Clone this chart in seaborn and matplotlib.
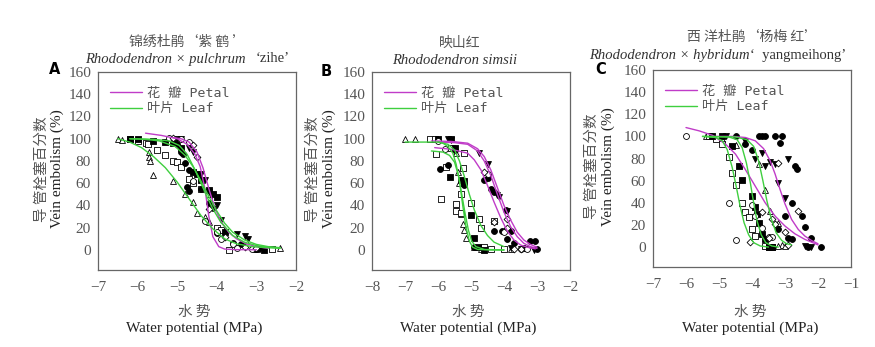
import matplotlib
matplotlib.use("Agg")
import matplotlib.pyplot as plt
from matplotlib.lines import Line2D
import pandas as pd
import seaborn as sns

# ---------------- data ----------------
xticks_A = [-7, -6, -5, -4, -3, -2]
xticks_B = [-8, -7, -6, -5, -4, -3, -2]
xticks_C = [-7, -6, -5, -4, -3, -2, -1]
yticks = [0, 20, 40, 60, 80, 100, 120, 140, 160]

# Panel A curves
A_petal1_x = [-5.8, -5.4, -5.0, -4.75, -4.55, -4.42, -4.3, -4.2, -4.1, -3.95, -3.8, -3.5, -3.0]
A_petal1_y = [105, 103, 100, 95, 86, 75, 55, 30, 12, 3, 0.8, 0.3, 0.2]
A_petal2_x = [-5.1, -4.9, -4.7, -4.5, -4.35, -4.2, -4.05, -3.9, -3.7, -3.5, -3.25, -3.0, -2.7]
A_petal2_y = [101, 100, 97, 88, 74, 55, 38, 26, 16, 10, 5.5, 3, 1.5]
A_leaf1_x = [-6.5, -6.2, -5.9, -5.6, -5.3, -5.0, -4.7, -4.4, -4.1, -3.8, -3.5, -3.1, -2.7, -2.4]
A_leaf1_y = [100, 97, 92, 84, 74, 61, 46, 31, 19, 10, 5.5, 3, 2, 1.5]
A_leaf2_x = [-6.2, -5.8, -5.45, -5.05, -4.8, -4.6, -4.4, -4.2, -4.0, -3.8, -3.6, -3.3, -3.0, -2.7, -2.4]
A_leaf2_y = [100, 99.5, 98, 93, 85, 75, 62, 48, 35, 24, 16, 9, 5, 3, 2]
A_leaf3_x = [-6.2, -5.6, -5.2, -4.95, -4.75, -4.55, -4.4, -4.25, -4.1, -3.9, -3.6, -3.3, -3.0, -2.7, -2.4]
A_leaf3_y = [100, 99.5, 98, 94, 86, 72, 60, 48, 37, 25, 13, 7, 4, 2.5, 2]

# Panel A points
A_tri_open_x = [-6.5, -6.4, -5.7, -5.7, -5.68, -5.6, -5.1, -4.8, -4.6, -4.5, -4.3, -4.2, -2.4, -3.0]
A_tri_open_y = [100, 99, 88, 84, 80, 67, 62, 50, 43, 33, 30, 25, 2, 2]
A_sq_open_x = [-6.2, -6.0, -5.8, -5.75, -5.5, -5.3, -5.1, -5.0, -4.9, -4.7, -4.6, -4.4, -4.2, -4.0, -3.9, -3.7, -2.6]
A_sq_open_y = [100, 98, 96, 95, 90, 85, 80, 79, 75, 64, 60, 55, 45, 20, 18, 0, 1]
A_sq_fill_x = [-6.2, -6.0, -5.6, -5.3, -5.1, -4.9, -4.6, -4.5, -4.4, -4.2, -4.1, -4.0, -3.8, -3.0, -2.8]
A_sq_fill_y = [100, 100, 98, 97, 96, 92, 70, 68, 63, 54, 50, 48, 16, 1, 0]
A_dot_fill_x = [-5.0, -4.9, -4.85, -4.8, -4.7, -4.75, -4.7, -4.4, -4.2, -4.1, -4.0, -3.6, -3.4, -3.0]
A_dot_fill_y = [95, 88, 86, 78, 72, 57, 53, 55, 42, 38, 15, 6, 5, 1]
A_vtri_fill_x = [-5.0, -4.9, -4.7, -4.6, -4.4, -4.3, -4.2, -4.0, -3.9, -3.5, -3.3, -3.2, -2.9]
A_vtri_fill_y = [100, 100, 92, 88, 68, 63, 52, 40, 27, 14, 13, 10, 1]
A_circ_open_x = [-5.2, -4.9, -4.7, -4.6, -4.3, -4.0, -3.9, -3.6, -3.5, -3.1]
A_circ_open_y = [101, 100, 97, 62, 26, 16, 10, 5, 2, 1]
A_dia_open_x = [-5.1, -4.6, -4.5, -4.2, -3.8, -3.3, -3.0]
A_dia_open_y = [101, 94, 84, 37, 12, 3, 2]

# Panel B curves
B_petal1_x = [-6.2, -5.6, -5.1, -4.8, -4.6, -4.4, -4.2, -4.0, -3.8, -3.6, -3.4, -3.2, -3.0]
B_petal1_y = [98, 97.6, 96, 91, 84, 72, 56, 40, 27, 16, 9, 5, 2.5]
B_petal2_x = [-6.0, -5.5, -5.1, -4.8, -4.6, -4.4, -4.2, -4.0, -3.8, -3.6, -3.4, -3.2, -3.0]
B_petal2_y = [97, 96.5, 95, 89, 80, 67, 50, 34, 21, 12, 6, 3, 1.5]
B_petal3_x = [-6.1, -5.6, -5.1, -4.9, -4.7, -4.5, -4.3, -4.1, -3.9, -3.7, -3.5, -3.3, -3.05]
B_petal3_y = [92, 90.5, 87, 81, 72, 58, 43, 29, 17, 9, 4.5, 2.5, 1]
B_leaf1_x = [-7.0, -6.0, -5.85, -5.7, -5.55, -5.45, -5.35, -5.25, -5.15, -5.05, -4.95, -4.8, -4.4, -4.0]
B_leaf1_y = [97, 97, 96, 93, 87, 77, 62, 40, 20, 8, 2.5, 0.5, 0, 0]
B_leaf2_x = [-6.2, -5.85, -5.65, -5.5, -5.38, -5.28, -5.18, -5.08, -4.98, -4.85, -4.6, -4.0]
B_leaf2_y = [89, 88, 85, 79, 67, 50, 33, 18, 8, 3, 0.5, 0]
B_leaf3_x = [-6.0, -5.7, -5.5, -5.35, -5.2, -5.05, -4.9, -4.7, -4.5, -4.3, -4.0]
B_leaf3_y = [97, 95, 90, 80, 66, 50, 36, 22, 13, 7, 3]

# Panel B points
B_tri_open_x = [-7.0, -6.7, -5.5, -5.45, -5.4, -5.35, -5.3, -5.25, -5.2, -5.15, -4.9, -4.7, -3.8]
B_tri_open_y = [100, 100, 92, 87, 70, 60, 32, 23, 18, 11, 3, 1, 1]
B_sq_open_x = [-6.25, -6.1, -6.05, -5.9, -5.75, -5.6, -5.45, -5.45, -5.3, -5.25, -5.2, -5.3, -5.0, -4.7, -4.75, -4.6, -4.4, -4.0, -4.3]
B_sq_open_y = [100, 100, 86, 46, 75, 92, 35, 41, 50, 74, 87, 33, 42, 20, 28, 3, 1, 1, 26]
B_sq_fill_x = [-6.0, -5.6, -5.5, -5.65, -5.3, -5.2, -5.0, -4.9, -4.8, -4.6]
B_sq_fill_y = [100, 100, 92, 66, 63, 62, 31, 11, 3, 0]
B_dot_fill_x = [-5.95, -5.7, -5.5, -5.2, -4.9, -4.6, -4.5, -4.4, -4.3, -4.3, -4.05, -3.95, -3.9, -3.8, -3.7, -3.2, -3.05, -3.0, -3.4]
B_dot_fill_y = [73, 76, 90, 58, 3, 63, 65, 55, 52, 17, 17, 36, 10, 17, 6, 8, 8, 1, 2]
B_vtri_fill_x = [-5.7, -5.6, -4.75, -4.5, -4.2, -4.15, -3.9, -3.8, -3.5, -3.1]
B_vtri_fill_y = [100, 99, 87, 77, 49, 48, 35, 2, 1, 0]
B_circ_open_x = [-6.0, -5.8, -4.5, -4.0, -3.5, -3.3]
B_circ_open_y = [98, 91, 68, 16, 1, 1]
B_dia_open_x = [-4.6, -4.3, -3.9, -3.9, -3.7, -3.5]
B_dia_open_y = [70, 25, 28, 20, 1, 1]

# Panel C curves
C_petal1_x = [-6.0, -5.6, -5.2, -4.8, -4.5, -4.2, -3.9, -3.6, -3.3, -3.0, -2.7, -2.4, -2.0]
C_petal1_y = [108, 105, 101, 93, 84, 70, 55, 40, 28, 19, 12, 7, 2]
C_petal2_x = [-5.2, -4.6, -4.2, -3.9, -3.65, -3.45, -3.3, -3.15, -3.0, -2.8, -2.6, -2.4, -2.2, -2.0]
C_petal2_y = [100, 100, 99, 96, 89, 78, 66, 52, 39, 25, 16, 10, 6, 3]
C_leaf1_x = [-5.5, -5.1, -4.9, -4.75, -4.6, -4.48, -4.36, -4.24, -4.1, -3.95, -3.75, -3.5]
C_leaf1_y = [100, 99, 96, 88, 72, 55, 37, 22, 11, 4, 1, 0]
C_leaf2_x = [-5.4, -4.7, -4.45, -4.3, -4.17, -4.05, -3.95, -3.85, -3.72, -3.58, -3.4, -3.2]
C_leaf2_y = [100, 99.5, 97, 90, 76, 58, 40, 24, 11, 4, 1, 0]
C_leaf3_x = [-5.5, -4.5, -4.15, -3.95, -3.8, -3.67, -3.55, -3.42, -3.27, -3.1, -2.95, -2.8]
C_leaf3_y = [100, 99.5, 97, 91, 78, 60, 42, 26, 13, 6, 3, 2]

# Panel C points
C_circ_open_x = [-6.0, -4.7, -4.5, -4.0, -3.9, -3.7, -3.5, -3.4]
C_circ_open_y = [100, 40, 6, 38, 28, 17, 9, 9]
C_sq_open_x = [-5.3, -5.1, -4.9, -4.7, -4.6, -4.5, -4.3, -4.2, -4.1, -4.0, -3.9, -3.6, -3.5, -3.4]
C_sq_open_y = [100, 98, 93, 81, 67, 56, 40, 32, 27, 16, 10, 1, 0, 0]
C_sq_fill_x = [-5.2, -4.9, -4.6, -4.4, -4.3, -4.0, -3.9, -3.85, -3.8, -3.7, -3.6, -3.5, -3.4]
C_sq_fill_y = [100, 100, 91, 73, 61, 46, 36, 30, 22, 12, 7, 0, 0]
C_tri_open_x = [-5.4, -4.9, -4.5, -3.8, -3.6, -3.45, -3.2, -3.1, -3.0, -3.2]
C_tri_open_y = [100, 98, 92, 75, 52, 33, 22, 2, 1, 1]
C_vtri_fill_x = [-4.8, -4.2, -3.9, -3.7, -3.6, -3.45, -3.3, -3.2, -3.0, -2.9, -2.2, -2.4]
C_vtri_fill_y = [100, 96, 80, 85, 73, 77, 75, 58, 44, 80, 0, 1]
C_dot_fill_x = [-4.5, -4.2, -4.0, -3.8, -3.7, -3.6, -3.3, -3.1, -3.15, -3.0, -2.8, -2.7, -2.65, -2.5, -2.4, -2.2, -2.3, -1.9, -2.9, -2.8, -3.2]
C_dot_fill_y = [100, 93, 88, 100, 100, 100, 100, 100, 94, 28, 40, 73, 71, 28, 18, 8, 0, 0, 8, 7, 16]
C_dia_open_x = [-3.2, -3.5, -3.4, -3.3, -2.6, -3.7, -4.05, -3.0, -2.9]
C_dia_open_y = [76, 8, 25, 21, 33, 32, 5, 14, 2]

# ---------------- styling ----------------
sns.set_theme(style="white")
plt.rcParams["font.family"] = ["Liberation Serif", "Noto Sans CJK SC"]
plt.rcParams["axes.unicode_minus"] = True

PETAL = "#c03cc8"
LEAF = "#3fcf3f"
CJK = ["Noto Sans CJK SC", "DejaVu Sans"]

W, H = 875, 347
fig = plt.figure(figsize=(W / 100, H / 100), dpi=100)


def fx(px):
    return px / W


def fy(py):
    return 1 - py / H


def pts(x, y, marker, filled, ax):
    df = pd.DataFrame({"x": x, "y": y})
    sns.scatterplot(data=df, x="x", y="y", ax=ax, marker=marker, s=18 if marker != "D" else 12,
                    facecolor="black" if filled else "white", edgecolor="black",
                    linewidth=0.6, zorder=3)


def curve(x, y, color, ax):
    df = pd.DataFrame({"x": x, "y": y})
    sns.lineplot(data=df, x="x", y="y", ax=ax, color=color, lw=1.0, sort=False,
                 estimator=None, zorder=4)


panels = [
    dict(box=(98, 72, 296, 270), xlim=(-7, -2), xt=xticks_A,
         petals=[(A_petal1_x, A_petal1_y), (A_petal2_x, A_petal2_y)],
         leaves=[(A_leaf1_x, A_leaf1_y), (A_leaf2_x, A_leaf2_y), (A_leaf3_x, A_leaf3_y)],
         points=[(A_tri_open_x, A_tri_open_y, "^", False), (A_sq_open_x, A_sq_open_y, "s", False),
                 (A_sq_fill_x, A_sq_fill_y, "s", True), (A_dot_fill_x, A_dot_fill_y, "o", True),
                 (A_vtri_fill_x, A_vtri_fill_y, "v", True), (A_circ_open_x, A_circ_open_y, "o", False),
                 (A_dia_open_x, A_dia_open_y, "D", False)],
         letter="A", letter_pos=(55, 69),
         ylab=(42, 57), xlab_c=194),
    dict(box=(372, 72, 570, 270), xlim=(-8, -2), xt=xticks_B,
         petals=[(B_petal1_x, B_petal1_y), (B_petal2_x, B_petal2_y), (B_petal3_x, B_petal3_y)],
         leaves=[(B_leaf1_x, B_leaf1_y), (B_leaf2_x, B_leaf2_y), (B_leaf3_x, B_leaf3_y)],
         points=[(B_tri_open_x, B_tri_open_y, "^", False), (B_sq_open_x, B_sq_open_y, "s", False),
                 (B_sq_fill_x, B_sq_fill_y, "s", True), (B_dot_fill_x, B_dot_fill_y, "o", True),
                 (B_vtri_fill_x, B_vtri_fill_y, "v", True), (B_circ_open_x, B_circ_open_y, "o", False),
                 (B_dia_open_x, B_dia_open_y, "D", False)],
         letter="B", letter_pos=(326, 72),
         ylab=(313, 329), xlab_c=468),
    dict(box=(653, 70, 851, 267), xlim=(-7, -1), xt=xticks_C,
         petals=[(C_petal1_x, C_petal1_y), (C_petal2_x, C_petal2_y)],
         leaves=[(C_leaf1_x, C_leaf1_y), (C_leaf2_x, C_leaf2_y), (C_leaf3_x, C_leaf3_y)],
         points=[(C_tri_open_x, C_tri_open_y, "^", False), (C_sq_open_x, C_sq_open_y, "s", False),
                 (C_sq_fill_x, C_sq_fill_y, "s", True), (C_dot_fill_x, C_dot_fill_y, "o", True),
                 (C_vtri_fill_x, C_vtri_fill_y, "v", True), (C_circ_open_x, C_circ_open_y, "o", False),
                 (C_dia_open_x, C_dia_open_y, "D", False)],
         letter="C", letter_pos=(601, 70),
         ylab=(592, 608), xlab_c=750),
]

for p in panels:
    l, t, r, b = p["box"]
    ax = fig.add_axes([fx(l), fy(b), (r - l) / W, (b - t) / H])
    for x, y, m, f in p["points"]:
        pts(x, y, m, f, ax)
    for x, y in p["petals"]:
        curve(x, y, PETAL, ax)
    for x, y in p["leaves"]:
        curve(x, y, LEAF, ax)
    ax.set_xlim(*p["xlim"])
    ax.set_ylim(-18, 160)
    ax.set_xticks(p["xt"])
    ax.set_yticks(yticks)
    ax.set_xlabel("")
    ax.set_ylabel("")
    ax.tick_params(axis="x", length=0, labelsize=11, labelcolor="#555555", pad=8)
    ax.tick_params(axis="y", length=0, labelsize=11, labelcolor="#555555", pad=5)
    for s in ax.spines.values():
        s.set_visible(True)
        s.set_color("#666666")
        s.set_linewidth(0.9)
    handles = [Line2D([], [], color=PETAL, lw=1.0), Line2D([], [], color=LEAF, lw=1.0)]
    leg = ax.legend(handles, ["花 瓣 Petal", "叶片 Leaf"], loc="upper left",
                    bbox_to_anchor=(0.0, 0.985), frameon=False, handlelength=2.4,
                    handletextpad=0.4, labelspacing=0.2,
                    prop=dict(family=["DejaVu Sans Mono", "Noto Sans CJK SC"], size=9.5))
    for tx in leg.get_texts():
        tx.set_color("#555555")
    # panel letter
    fig.text(fx(p["letter_pos"][0]), fy(p["letter_pos"][1]), p["letter"], fontsize=10.5,
             fontweight="bold", family=["DejaVu Sans"], ha="center", va="center", color="black")
    # y labels
    cy = fy((t + b) / 2 - 2)
    fig.text(fx(p["ylab"][0]), cy, "导 管栓塞百分数", rotation=90, ha="center", va="center",
             fontsize=10.5, family=CJK, color="#555555")
    fig.text(fx(p["ylab"][1]), cy, "Vein embolism (%)", rotation=90, ha="center", va="center",
             fontsize=11, color="#222222")
    # x labels
    fig.text(fx(p["xlab_c"]), fy(312), "水 势", ha="center", va="center", fontsize=10.5,
             family=CJK, color="#555555")
    fig.text(fx(p["xlab_c"]), fy(328), "Water potential (MPa)", ha="center", va="center",
             fontsize=11, color="#222222")

# titles
fig.text(fx(188), fy(42), "锦绣杜鹃‘紫 鹤 ’", ha="center", va="center", fontsize=10,
         family=CJK, color="#555555")
fig.text(fx(246), fy(59), "Rhododendron × pulchrum", ha="right", va="center", fontsize=10.5,
         style="italic", color="#333333")
fig.text(fx(256), fy(59), "‘zihe’", ha="left", va="center", fontsize=10.5, color="#333333")

fig.text(fx(460), fy(43), "映山红", ha="center", va="center", fontsize=10,
         family=CJK, color="#555555")
fig.text(fx(455), fy(60), "Rhododendron simsii", ha="center", va="center", fontsize=10.5,
         style="italic", color="#333333")

fig.text(fx(753), fy(37), "西 洋杜鹃‘杨梅 红’", ha="center", va="center", fontsize=10,
         family=CJK, color="#555555")
fig.text(fx(750), fy(55), "Rhododendron × hybridum", ha="right", va="center", fontsize=10.5,
         style="italic", color="#333333")
fig.text(fx(750), fy(55), "‘  yangmeihong’", ha="left", va="center", fontsize=10.5,
         color="#333333")

fig.savefig("out.png", dpi=100, facecolor="white")
